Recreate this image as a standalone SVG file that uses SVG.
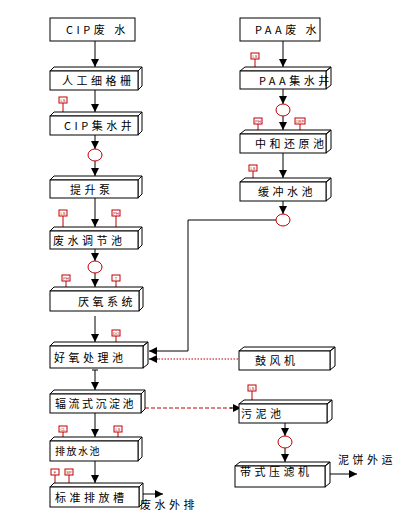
<svg xmlns="http://www.w3.org/2000/svg" width="413" height="530" viewBox="0 0 413 530">
<style>
.box{fill:#fff;stroke:#000;stroke-width:1}
.t{font-family:"Noto Sans CJK SC","Liberation Sans",sans-serif;font-size:11px;fill:#000;letter-spacing:3.5px}
.ln{fill:none;stroke:#000;stroke-width:1}
.tag{fill:#fff;stroke:#c00000;stroke-width:1}
.tagl{stroke:#c00000;stroke-width:1}
.tt{font-family:"Liberation Sans",sans-serif;font-size:4px;fill:#c00000;text-anchor:middle}
.pump{fill:#fff;stroke:#c00000;stroke-width:1}
.red{fill:none;stroke:#c00000;stroke-width:1}
</style>
<defs>
<marker id="ah" markerUnits="userSpaceOnUse" markerWidth="9" markerHeight="9" refX="8" refY="4.5" orient="auto">
<path d="M0,0.5 L8,4.5 L0,8.5 z" fill="#000"/>
</marker>
</defs>
<rect width="413" height="530" fill="#fff"/>

<g id="connectors">
<path class="ln" d="M95,41 V67" marker-end="url(#ah)"/>
<path class="ln" d="M95,90 V112" marker-end="url(#ah)"/>
<path class="ln" d="M95,135 V149" marker-end="url(#ah)"/>
<path class="ln" d="M95,161 V176" marker-end="url(#ah)"/>
<path class="ln" d="M95,198 V227" marker-end="url(#ah)"/>
<path class="ln" d="M95,249 V261" marker-end="url(#ah)"/>
<path class="ln" d="M95,273 V287" marker-end="url(#ah)"/>
<path class="ln" d="M95,316 V342" marker-end="url(#ah)"/>
<path class="ln" d="M92,370 H98 M95,370 V390" marker-end="url(#ah)"/>
<path class="ln" d="M95,413 V437" marker-end="url(#ah)"/>
<path class="ln" d="M95,461 V483" marker-end="url(#ah)"/>
<path class="ln" d="M143,494 H163" marker-end="url(#ah)"/>
<path class="ln" d="M283,41 V67" marker-end="url(#ah)"/>
<path class="ln" d="M283,89 V104" marker-end="url(#ah)"/>
<path class="ln" d="M283,116 V130" marker-end="url(#ah)"/>
<path class="ln" d="M283,153 V178" marker-end="url(#ah)"/>
<path class="ln" d="M283,201 V214" marker-end="url(#ah)"/>
<path class="ln" d="M276,220 H188 V351 H149" marker-end="url(#ah)"/>
<path class="red" stroke-dasharray="1.5,1.5" d="M238,359 H158"/>
<path class="ln" d="M158,359 H149" marker-end="url(#ah)"/>
<path class="red" stroke-dasharray="4,2" d="M145,408 H232"/>
<path class="ln" d="M230,408 H241" marker-end="url(#ah)"/>
<path class="ln" d="M285,423 V436" marker-end="url(#ah)"/>
<path class="ln" d="M285,448 V462" marker-end="url(#ah)"/>
<path class="ln" d="M330,474 H357" marker-end="url(#ah)"/>
</g>

<g id="pumps">
<ellipse class="pump" cx="95" cy="155" rx="7" ry="6"/>
<ellipse class="pump" cx="95" cy="267" rx="7" ry="6"/>
<ellipse class="pump" cx="283" cy="110" rx="7" ry="6"/>
<ellipse class="pump" cx="283" cy="220" rx="7" ry="6"/>
<ellipse class="pump" cx="285" cy="442" rx="7" ry="6"/>
</g>

<g id="tags">
<line class="tagl" x1="63" y1="103" x2="63" y2="112"/><rect class="tag" x="59" y="97" width="8" height="6"/><text class="tt" x="63" y="101.5">LS</text>
<line class="tagl" x1="63" y1="216" x2="63" y2="227"/><rect class="tag" x="59" y="210" width="8" height="6"/><text class="tt" x="63" y="214.5">LS</text>
<line class="tagl" x1="116" y1="216" x2="116" y2="227"/><rect class="tag" x="112" y="210" width="8" height="6"/><text class="tt" x="116" y="214.5">PH</text>
<line class="tagl" x1="66" y1="281" x2="66" y2="287"/><rect class="tag" x="62" y="275" width="8" height="6"/><text class="tt" x="66" y="279.5">PH</text>
<line class="tagl" x1="116" y1="281" x2="116" y2="287"/><rect class="tag" x="112" y="275" width="8" height="6"/><text class="tt" x="116" y="279.5">T</text>
<line class="tagl" x1="116" y1="336" x2="116" y2="342"/><rect class="tag" x="112" y="330" width="8" height="6"/><text class="tt" x="116" y="334.5">DO</text>
<line class="tagl" x1="63" y1="432" x2="63" y2="437"/><rect class="tag" x="59" y="426" width="8" height="6"/><text class="tt" x="63" y="430.5">CL</text>
<line class="tagl" x1="118" y1="432" x2="118" y2="437"/><rect class="tag" x="114" y="426" width="8" height="6"/><text class="tt" x="118" y="430.5">LS</text>
<line class="tagl" x1="55" y1="475" x2="55" y2="483"/><rect class="tag" x="51" y="469" width="8" height="6"/><text class="tt" x="55" y="473.5">F</text>
<line class="tagl" x1="69" y1="475" x2="69" y2="483"/><rect class="tag" x="65" y="469" width="8" height="6"/><text class="tt" x="69" y="473.5">SP</text>
<line class="tagl" x1="255" y1="59" x2="255" y2="67"/><rect class="tag" x="251" y="53" width="8" height="6"/><text class="tt" x="255" y="57.5">LS</text>
<line class="tagl" x1="258" y1="124" x2="258" y2="130"/><rect class="tag" x="254" y="118" width="8" height="6"/><text class="tt" x="258" y="122.5">PH</text>
<line class="tagl" x1="300" y1="124" x2="300" y2="130"/><rect class="tag" x="295" y="118" width="10" height="6"/><text class="tt" x="300" y="122.5">ORP</text>
<line class="tagl" x1="253" y1="171" x2="253" y2="178"/><rect class="tag" x="249" y="165" width="8" height="6"/><text class="tt" x="253" y="169.5">LS</text>
<line class="tagl" x1="252" y1="391" x2="252" y2="400"/><rect class="tag" x="248" y="385" width="8" height="6"/><text class="tt" x="252" y="389.5">LS</text>
</g>

<g id="n-cip">
<rect class="box" x="50" y="18" width="85" height="23"/>
<text class="t" x="66" y="34">CIP废 水</text>
</g>
<g id="n-grille">
<path class="box" d="M50,71 L54,67 H142 L138,71 Z M138,71 L142,67 V86 L138,90 Z"/>
<rect class="box" x="50" y="71" width="88" height="19"/>
<text class="t" x="62" y="85">人工细格栅</text>
</g>
<g id="n-cipwell">
<path class="box" d="M50,116 L54,112 H142 L138,116 Z M138,116 L142,112 V131 L138,135 Z"/>
<rect class="box" x="50" y="116" width="88" height="19"/>
<text class="t" x="64" y="130">CIP集水井</text>
</g>
<g id="n-pump">
<path class="box" d="M50,180 L54,176 H142 L138,180 Z M138,180 L142,176 V194 L138,198 Z"/>
<rect class="box" x="50" y="180" width="88" height="18"/>
<text class="t" x="70" y="194">提升泵</text>
</g>
<g id="n-eq">
<path class="box" d="M50,231 L54,227 H142 L138,231 Z M138,231 L142,227 V245 L138,249 Z"/>
<rect class="box" x="50" y="231" width="88" height="18"/>
<text class="t" x="53" y="245">废水调节池</text>
</g>
<g id="n-anaerobic">
<path class="box" d="M50,291 L54,287 H143 L139,291 Z M139,291 L143,287 V307 L139,311 Z"/>
<rect class="box" x="50" y="291" width="89" height="20"/>
<text class="t" x="78" y="306">厌氧系统</text>
</g>
<g id="n-aerobic">
<path class="box" d="M50,346 L54,342 H148 L143,346 Z M143,346 L148,342 V364 L143,368 Z"/>
<rect class="box" x="50" y="346" width="93" height="22"/>
<text class="t" x="54" y="362">好氧处理池</text>
</g>
<g id="n-settle">
<path class="box" d="M50,394 L54,390 H145 L141,394 Z M141,394 L145,390 V409 L141,413 Z"/>
<rect class="box" x="50" y="394" width="91" height="19"/>
<text class="t" x="55" y="408" style="letter-spacing:2.5px">辐流式沉淀池</text>
</g>
<g id="n-discharge">
<path class="box" d="M50,441 L54,437 H142 L138,441 Z M138,441 L142,437 V457 L138,461 Z"/>
<rect class="box" x="50" y="441" width="88" height="20"/>
<text class="t" x="55" y="455" style="font-size:10px;letter-spacing:1.5px">排放水池</text>
</g>
<g id="n-std">
<path class="box" d="M50,487 L54,483 H143 L139,487 Z M139,487 L143,483 V503 L139,507 Z"/>
<rect class="box" x="50" y="487" width="89" height="20"/>
<text class="t" x="55" y="502">标准排放槽</text>
</g>
<text class="t" x="140" y="509">废水外排</text>

<g id="n-paa">
<rect class="box" x="240" y="18" width="80" height="23"/>
<text class="t" x="255" y="34">PAA废 水</text>
</g>
<g id="n-paawell">
<path class="box" d="M240,71 L245,67 H331 L326,71 Z M326,71 L331,67 V85 L326,89 Z"/>
<rect class="box" x="240" y="71" width="86" height="18"/>
<text class="t" x="259" y="85">PAA集水井</text>
</g>
<g id="n-neutral">
<path class="box" d="M240,134 L245,130 H331 L326,134 Z M326,134 L331,130 V149 L326,153 Z"/>
<rect class="box" x="240" y="134" width="86" height="19"/>
<text class="t" x="255" y="148">中和还原池</text>
</g>
<g id="n-buffer">
<path class="box" d="M240,182 L245,178 H331 L326,182 Z M326,182 L331,178 V197 L326,201 Z"/>
<rect class="box" x="240" y="182" width="86" height="19"/>
<text class="t" x="258" y="196">缓冲水池</text>
</g>
<g id="n-blower">
<path class="box" d="M239,351 L244,347 H335 L330,351 Z M330,351 L335,347 V366 L330,370 Z"/>
<rect class="box" x="239" y="351" width="91" height="19"/>
<text class="t" x="255" y="365">鼓风机</text>
</g>
<g id="n-sludge">
<path class="box" d="M239,404 L244,400 H332 L327,404 Z M327,404 L332,400 V419 L327,423 Z"/>
<rect class="box" x="239" y="404" width="88" height="19"/>
<text class="t" x="241" y="418">污泥池</text>
</g>
<g id="n-press">
<path class="box" d="M235,466 L240,462 H330 L325,466 Z M325,466 L330,462 V483 L325,487 Z"/>
<rect class="box" x="235" y="466" width="90" height="21"/>
<text class="t" x="240" y="476">带式压滤机</text>
</g>
<text class="t" x="338" y="464">泥饼外运</text>
</svg>
